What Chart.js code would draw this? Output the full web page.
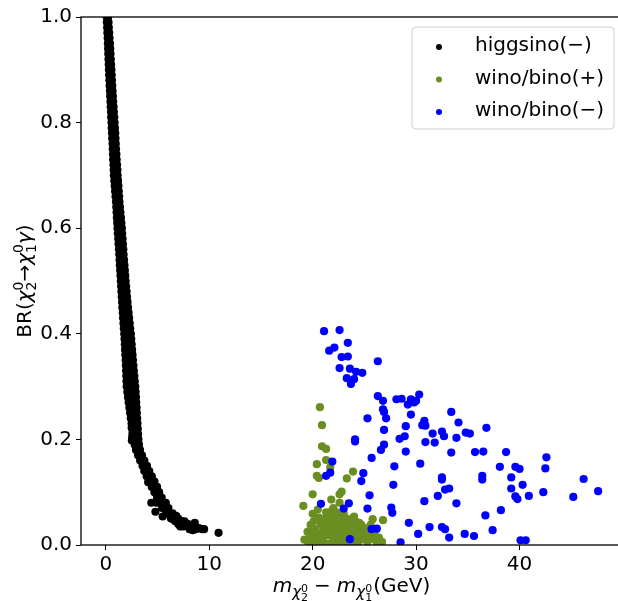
<!DOCTYPE html>
<html>
<head>
<meta charset="utf-8">
<script src="https://cdn.jsdelivr.net/npm/chart.js@4.4.1/dist/chart.umd.min.js"></script>
<style>
  html, body { margin: 0; padding: 0; background: #fff; overflow: hidden; }
  #wrap { width: 618px; height: 601px; overflow: hidden; }
  canvas { display: block; }
</style>
</head>
<body>
<div id="wrap"><canvas id="brChart" width="626" height="601"></canvas></div>
<script>
// series labels (legend order)
const seriesLabels = ["higgsino(−)", "wino/bino(+)", "wino/bino(−)"];
const seriesColors = ["#000000", "#6b8e23", "#0000ff"];

// axis ticks
const xTicks = [0, 10, 20, 30, 40];
const yTicks = [0.0, 0.2, 0.4, 0.6, 0.8, 1.0];

// higgsino(−): [mass splitting (GeV), BR]
const higgsino = [
  [0.08,1.00],[0.22,1.00],[0.10,0.99],[0.26,0.99],[0.13,0.98],[0.29,0.98],
  [0.15,0.97],[0.33,0.97],[0.18,0.96],[0.36,0.96],[0.20,0.95],[0.40,0.95],
  [0.22,0.94],[0.43,0.94],[0.24,0.93],[0.45,0.93],[0.26,0.92],[0.48,0.92],
  [0.28,0.91],[0.51,0.91],[0.30,0.90],[0.54,0.90],[0.32,0.89],[0.57,0.89],
  [0.35,0.88],[0.59,0.88],[0.37,0.87],[0.62,0.87],[0.40,0.86],[0.65,0.86],
  [0.42,0.85],[0.68,0.85],[0.45,0.84],[0.71,0.84],[0.47,0.83],[0.75,0.83],
  [0.50,0.82],[0.78,0.82],[0.52,0.81],[0.82,0.81],[0.55,0.80],[0.85,0.80],
  [0.57,0.79],[0.88,0.79],[0.60,0.78],[0.91,0.78],[0.62,0.77],[0.93,0.77],
  [0.65,0.76],[0.96,0.76],[0.67,0.75],[0.99,0.75],[0.69,0.74],[1.02,0.74],
  [0.71,0.73],[1.05,0.73],[0.74,0.72],[1.09,0.72],[0.76,0.71],[1.12,0.71],
  [0.78,0.70],[1.14,0.70],[0.82,0.69],[1.18,0.69],[0.86,0.68],[1.22,0.68],
  [0.90,0.67],[1.25,0.67],[0.94,0.66],[1.29,0.66],[0.98,0.65],[1.32,0.65],
  [1.01,0.64],[1.37,0.64],[1.04,0.63],[1.41,0.63],[1.07,0.62],[1.46,0.62],
  [1.10,0.61],[1.50,0.61],[1.13,0.60],[1.55,0.60],[1.16,0.59],[1.58,0.59],
  [1.20,0.58],[1.62,0.58],[1.23,0.57],[1.65,0.57],[1.27,0.56],[1.69,0.56],
  [1.30,0.55],[1.72,0.55],[1.33,0.54],[1.76,0.54],[1.36,0.53],[1.80,0.53],
  [1.39,0.52],[1.84,0.52],[1.42,0.51],[1.88,0.51],
  [1.45,0.50],[1.68,0.50],[1.92,0.50],[1.48,0.49],[1.72,0.49],[1.96,0.49],
  [1.51,0.48],[1.76,0.48],[2.01,0.48],[1.54,0.47],[1.80,0.47],[2.05,0.47],
  [1.57,0.46],[1.84,0.46],[2.10,0.46],[1.60,0.45],[1.87,0.45],[2.14,0.45],
  [1.64,0.44],[1.92,0.44],[2.20,0.44],[1.67,0.43],[1.96,0.43],[2.25,0.43],
  [1.71,0.42],[2.01,0.42],[2.31,0.42],[1.74,0.41],[2.05,0.41],[2.36,0.41],
  [1.78,0.40],[2.10,0.40],[2.42,0.40],[1.81,0.39],[2.13,0.39],[2.46,0.39],
  [1.84,0.38],[2.17,0.38],[2.50,0.38],[1.86,0.37],[2.20,0.37],[2.54,0.37],
  [1.89,0.36],[2.24,0.36],[2.58,0.36],[1.92,0.35],[2.27,0.35],[2.62,0.35],
  [1.94,0.34],[2.30,0.34],[2.67,0.34],[1.96,0.33],[2.34,0.33],[2.71,0.33],
  [1.98,0.32],[2.37,0.32],[2.76,0.32],[2.00,0.31],[2.40,0.31],[2.80,0.31],
  [2.02,0.30],[2.43,0.30],[2.85,0.30],[2.08,0.29],[2.48,0.29],[2.88,0.29],
  [2.15,0.28],[2.53,0.28],[2.91,0.28],[2.21,0.27],[2.58,0.27],[2.94,0.27],
  [2.28,0.26],[2.62,0.26],[2.97,0.26],[2.35,0.25],[2.67,0.25],[3.00,0.25],
  [2.42,0.24],[2.72,0.24],[3.03,0.24],[2.49,0.23],[2.77,0.23],[3.06,0.23],
  [2.56,0.22],[2.82,0.22],[3.09,0.22],[2.63,0.21],[2.87,0.21],[3.12,0.21],
  [2.70,0.20],[2.92,0.20],[3.15,0.20],
  [2.52,0.198],[2.55,0.205],[2.58,0.212],[2.50,0.222],
  [2.80,0.19],[3.20,0.19],[2.92,0.18],[3.30,0.18],[3.12,0.17],[3.50,0.17],
  [3.32,0.16],[3.72,0.16],[3.55,0.15],[3.98,0.15],[3.72,0.14],[4.20,0.14],
  [3.95,0.13],[4.45,0.13],[4.20,0.12],[4.70,0.12],[4.45,0.11],[4.95,0.11],
  [4.70,0.10],[5.15,0.10],[4.95,0.09],[5.40,0.09],
  [5.20,0.08],[5.50,0.08],[5.80,0.08],[5.45,0.07],[5.75,0.07],[6.05,0.07],
  [5.85,0.06],[6.15,0.06],[6.45,0.06],[6.30,0.05],[6.65,0.05],[7.00,0.05],
  [6.70,0.045],[7.40,0.045],[7.00,0.04],[7.45,0.04],[7.90,0.04],
  [7.50,0.035],[8.05,0.035],[8.60,0.035],[8.10,0.03],[8.70,0.03],[9.30,0.03],
  [4.10,0.119],[4.40,0.080],[4.90,0.080],[4.80,0.063],[5.50,0.054],[6.10,0.060],
  [6.80,0.055],[7.60,0.045],[7.20,0.035],[8.00,0.038],[8.60,0.042],[9.00,0.032],
  [9.50,0.030],[8.40,0.028],[10.90,0.023]
];

// wino/bino(+)
const winoPlus = [
  [20.7,0.261],[20.9,0.227],[20.9,0.187],[21.3,0.182],[20.4,0.153],[21.3,0.161],
  [21.7,0.147],[20.6,0.127],[20.4,0.131],[23.9,0.139],[23.3,0.126],[20.0,0.096],
  [22.8,0.101],[22.6,0.096],[19.1,0.074],[21.8,0.086],[22.6,0.080],[20.0,0.059],
  [21.9,0.066],[25.8,0.049],[26.8,0.047],[24.2,0.044],[24.7,0.038],[26.7,0.006],
  [20.5,0.067],[21.9,0.060],[24.0,0.054],[19.5,0.025],[19.7,0.013],[25.6,0.038],
  [19.2,0.010],[20.1,0.045],[20.3,0.030],[20.5,0.015],[20.2,0.005],[20.8,0.040],
  [21.0,0.025],[21.0,0.008],[21.2,0.050],[21.4,0.035],[21.5,0.018],[21.6,0.002],
  [21.7,0.055],[21.8,0.042],[21.9,0.028],[22.0,0.012],[22.1,0.048],[22.2,0.035],
  [22.3,0.020],[22.4,0.005],[22.5,0.058],[22.6,0.040],[22.7,0.025],[22.8,0.010],
  [22.9,0.045],[23.0,0.030],[23.1,0.015],[23.2,0.003],[23.3,0.050],[23.4,0.036],
  [23.5,0.022],[23.6,0.008],[23.8,0.040],[23.9,0.026],[24.0,0.012],[24.2,0.030],
  [24.3,0.018],[24.4,0.004],[24.6,0.025],[24.8,0.012],[25.0,0.032],[25.2,0.018],
  [25.3,0.005],[25.5,0.025],[25.7,0.012],[26.0,0.020],[26.2,0.005],[20.6,0.052],
  [21.3,0.062],[22.0,0.070],[22.3,0.062],[20.9,0.012],[21.2,0.020],[21.7,0.030],
  [22.5,0.015],[23.7,0.045],[24.5,0.042],[19.8,0.038],[19.9,0.020],[21.4,0.045],
  [22.8,0.052],[23.0,0.060],[21.1,0.034],
  [19.6,0.004],[20.4,0.022],[20.7,0.003],[21.1,0.045],[21.5,0.028],[21.9,0.048],
  [22.2,0.008],[22.6,0.030],[23.0,0.042],[23.4,0.016],[23.8,0.002],[24.1,0.038],
  [24.9,0.022],[25.1,0.010],[25.9,0.030],[26.4,0.014],[19.9,0.030],[22.4,0.048]
];

// wino/bino(−)
const winoMinus = [
  [21.1,0.405],[22.6,0.407],[23.4,0.383],[22.1,0.374],[21.6,0.368],[22.8,0.356],
  [23.4,0.357],[26.3,0.348],[22.6,0.335],[23.6,0.334],[24.2,0.328],[24.8,0.326],
  [23.3,0.316],[24.0,0.314],[23.7,0.305],[26.3,0.282],[26.8,0.273],[28.1,0.276],
  [28.6,0.277],[29.5,0.276],[29.2,0.266],[29.8,0.270],[30.0,0.273],[30.3,0.285],
  [26.8,0.257],[26.9,0.252],[25.3,0.240],[27.1,0.240],[29.5,0.247],[33.4,0.252],
  [29.0,0.225],[30.8,0.235],[30.6,0.227],[30.9,0.226],[34.1,0.232],[26.9,0.218],
  [24.1,0.200],[24.1,0.196],[28.4,0.201],[28.9,0.206],[31.6,0.211],[32.5,0.215],
  [32.7,0.206],[31.8,0.194],[30.9,0.195],[33.9,0.203],[34.8,0.213],[35.2,0.211],
  [35.7,0.176],[26.9,0.190],[26.6,0.180],[29.0,0.177],[33.4,0.175],[25.7,0.165],
  [30.4,0.154],[21.9,0.158],[27.9,0.149],[21.7,0.137],[21.3,0.131],[24.9,0.136],
  [24.7,0.121],[27.8,0.114],[32.5,0.128],[32.5,0.124],[32.8,0.105],[33.2,0.107],
  [25.5,0.094],[30.8,0.083],[32.1,0.093],[33.9,0.079],[20.8,0.078],[23.5,0.079],
  [23.0,0.069],[25.3,0.069],[27.6,0.071],[27.7,0.061],[29.3,0.042],[31.3,0.034],
  [32.5,0.034],[32.8,0.030],[30.2,0.021],[25.7,0.030],[26.2,0.031],[23.6,0.011],
  [28.5,0.005],[33.2,0.014],[34.7,0.021],[35.6,0.017],[36.8,0.222],[36.5,0.177],
  [38.7,0.176],[42.6,0.166],[38.1,0.148],[39.6,0.148],[40.0,0.144],[42.5,0.145],
  [36.4,0.131],[36.4,0.124],[39.2,0.128],[46.2,0.125],[39.2,0.107],[40.3,0.114],
  [39.6,0.092],[39.8,0.087],[40.9,0.093],[42.3,0.100],[45.2,0.091],[47.6,0.102],
  [38.2,0.066],[36.7,0.056],[37.4,0.028],[40.1,0.009],[40.6,0.009]
];

const FONT = "'DejaVu Sans', sans-serif";
const FS = 20;

// draw a mathtext-like run list, centred on x
function drawRuns(ctx, runs, x, y) {
  let total = 0;
  runs.forEach(r => {
    ctx.font = (r.it ? "italic " : "") + (FS * (r.s || 1)) + "px " + FONT;
    r.w = ctx.measureText(r.t).width + (r.gap || 0);
    if (!r.na) total += r.w;
  });
  let cx = x - total / 2;
  ctx.textBaseline = "alphabetic";
  ctx.textAlign = "left";
  runs.forEach(r => {
    ctx.font = (r.it ? "italic " : "") + (FS * (r.s || 1)) + "px " + FONT;
    ctx.fillText(r.t, cx, y + (r.dy || 0) * FS);
    if (!r.na) cx += r.w;
  });
}

const decorPlugin = {
  id: "decor",
  afterDatasetsDraw(chart) {
    const ctx = chart.ctx, a = chart.chartArea;
    ctx.save();
    // frame
    ctx.strokeStyle = "#000";
    ctx.lineWidth = 1.3;
    ctx.strokeRect(a.left, a.top, a.right - a.left, a.bottom - a.top);

    // legend box
    const bx = 412, by = 27, bw = 202, bh = 102, rr = 4;
    ctx.beginPath();
    ctx.moveTo(bx + rr, by);
    ctx.arcTo(bx + bw, by, bx + bw, by + bh, rr);
    ctx.arcTo(bx + bw, by + bh, bx, by + bh, rr);
    ctx.arcTo(bx, by + bh, bx, by, rr);
    ctx.arcTo(bx, by, bx + bw, by, rr);
    ctx.closePath();
    ctx.fillStyle = "rgba(255,255,255,0.8)";
    ctx.fill();
    ctx.strokeStyle = "#d0d0d0";
    ctx.lineWidth = 1;
    ctx.stroke();
    const rowsY = [46, 78.5, 111];
    seriesLabels.forEach((lab, i) => {
      ctx.beginPath();
      ctx.arc(439, rowsY[i] + 1, 3, 0, Math.PI * 2);
      ctx.fillStyle = seriesColors[i];
      ctx.fill();
      ctx.fillStyle = "#000";
      ctx.font = FS + "px " + FONT;
      ctx.textAlign = "left";
      ctx.textBaseline = "middle";
      ctx.fillText(lab, 475, rowsY[i]);
    });

    // axis titles
    ctx.fillStyle = "#000";
    drawRuns(ctx, [
      { t: "m", it: true },
      { t: "χ", it: true, s: 0.75, dy: 0.25 },
      { t: "0", s: 0.55, dy: -0.02, na: true },
      { t: "2", s: 0.55, dy: 0.46, gap: 6 },
      { t: "−", gap: 6 },
      { t: "m", it: true },
      { t: "χ", it: true, s: 0.75, dy: 0.25 },
      { t: "0", s: 0.55, dy: -0.02, na: true },
      { t: "1", s: 0.55, dy: 0.46, gap: 1 },
      { t: "(GeV)" }
    ], (a.left + a.right) / 2, 592);

    ctx.translate(31, (a.top + a.bottom) / 2);
    ctx.rotate(-Math.PI / 2);
    drawRuns(ctx, [
      { t: "BR(" },
      { t: "χ", it: true },
      { t: "0", s: 0.7, dy: -0.42, na: true },
      { t: "2", s: 0.7, dy: 0.25 },
      { t: "→" },
      { t: "χ", it: true },
      { t: "0", s: 0.7, dy: -0.42, na: true },
      { t: "1", s: 0.7, dy: 0.25 },
      { t: "γ", it: true },
      { t: ")" }
    ], 0, 0);
    ctx.restore();
  }
};

function toPts(arr) { return arr.map(p => ({ x: p[0], y: p[1] })); }

const tickFont = { family: FONT, size: FS };

new Chart(document.getElementById("brChart"), {
  type: "scatter",
  data: {
    datasets: [
      { label: seriesLabels[2], data: toPts(winoMinus), backgroundColor: seriesColors[2] },
      { label: seriesLabels[1], data: toPts(winoPlus), backgroundColor: seriesColors[1] },
      { label: seriesLabels[0], data: toPts(higgsino), backgroundColor: seriesColors[0] }
    ]
  },
  options: {
    responsive: false,
    animation: false,
    devicePixelRatio: 1,
    clip: 0,
    layout: { padding: { left: 0, right: 2, top: 17, bottom: 0 } },
    elements: { point: { radius: 4.1, hoverRadius: 4.1, borderWidth: 0 } },
    plugins: { legend: { display: false }, tooltip: { enabled: false } },
    scales: {
      x: {
        type: "linear",
        min: -2.4,
        max: 49.9,
        afterBuildTicks: s => { s.ticks = xTicks.map(v => ({ value: v })); },
        afterFit: s => { s.height = 56; },
        border: { display: false },
        grid: { drawOnChartArea: false, tickLength: 5, color: "#000", lineWidth: 1 },
        ticks: { color: "#000", font: tickFont, padding: 3, autoSkip: false, maxRotation: 0,
                 callback: v => String(v) }
      },
      y: {
        type: "linear",
        min: 0,
        max: 1,
        afterBuildTicks: s => { s.ticks = yTicks.map(v => ({ value: v })); },
        afterFit: s => { s.width = 81; },
        border: { display: false },
        grid: { drawOnChartArea: false, tickLength: 5, color: "#000", lineWidth: 1 },
        ticks: { color: "#000", font: tickFont, padding: 4, autoSkip: false,
                 callback: v => v.toFixed(1) }
      }
    }
  },
  plugins: [decorPlugin]
});
</script>
</body>
</html>
